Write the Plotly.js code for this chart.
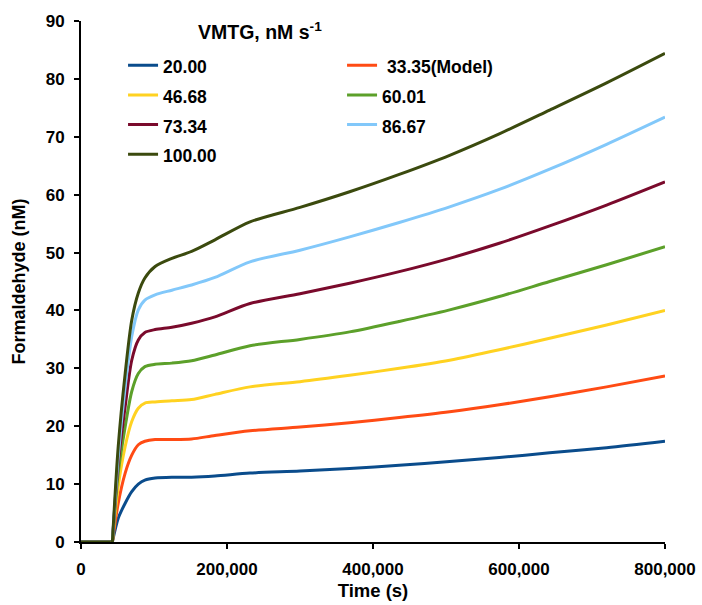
<!DOCTYPE html>
<html>
<head>
<meta charset="utf-8">
<script src="https://cdn.plot.ly/plotly-3.0.1.min.js"></script>
<style>
html,body{margin:0;padding:0;background:#fff;}
#chart{width:702px;height:605px;}
</style>
</head>
<body>
<div id="chart"></div>
<script>
// Time points (s)
const timeS = [0, 43000, 51000, 60500, 69500, 78500, 87500, 101500, 124500, 151500, 183500, 231500, 300000, 368000, 436000, 505000, 573000, 642000, 720000, 800000];

// Series names (VMTG, nM s-1)
const seriesNames = ['20.00', '\u00a033.35(Model)', '46.68', '60.01', '73.34', '86.67', '100.00'];
const seriesColors = ['#0A4C8C', '#FF4B14', '#FFD221', '#5CA02A', '#7A0A2C', '#82C8FA', '#3B4A0E'];

// Formaldehyde (nM)
const v20  = [0, 0, 4.1, 6.7, 8.7, 10.0, 10.7, 11.06, 11.2, 11.2, 11.4, 11.9, 12.25, 12.7, 13.25, 13.9, 14.6, 15.4, 16.3, 17.4];
const v33  = [0, 0, 6.7, 11.9, 15.0, 16.8, 17.4, 17.7, 17.7, 17.8, 18.4, 19.2, 19.85, 20.6, 21.5, 22.5, 23.7, 25.1, 26.8, 28.7];
const v46  = [0, 0, 9.6, 16.5, 20.8, 23.1, 24.0, 24.2, 24.4, 24.6, 25.5, 26.8, 27.7, 28.8, 30.0, 31.4, 33.2, 35.2, 37.5, 40.0];
const v60  = [0, 0, 11.9, 19.9, 26.0, 29.1, 30.3, 30.7, 30.9, 31.3, 32.3, 33.9, 35.0, 36.3, 38.1, 40.1, 42.4, 45.0, 47.9, 51.0];
const v73  = [0, 0, 13.6, 23.4, 31.4, 34.9, 36.2, 36.7, 37.1, 37.8, 38.9, 41.2, 42.9, 44.7, 46.7, 49.0, 51.6, 54.6, 58.2, 62.2];
const v86  = [0, 0, 14.7, 26.8, 35.5, 40.1, 41.8, 42.7, 43.5, 44.4, 45.7, 48.4, 50.4, 52.7, 55.2, 57.9, 60.9, 64.4, 68.7, 73.4];
const v100 = [0, 0, 16.5, 29.1, 38.3, 43.0, 45.6, 47.6, 49.0, 50.2, 52.2, 55.3, 57.8, 60.5, 63.5, 66.8, 70.5, 74.6, 79.3, 84.4];

const allSeries = [v20, v33, v46, v60, v73, v86, v100];

// Axis ticks
const xTicks = [0, 200000, 400000, 600000, 800000];
const yTicks = [0, 10, 20, 30, 40, 50, 60, 70, 80, 90];

const FONT = 'Liberation Sans, Arial, Helvetica, sans-serif';

const traces = [];
// flat lag phase (first two samples), drawn straight
allSeries.forEach((ys, i) => {
  traces.push({
    type: 'scatter', mode: 'lines',
    x: timeS.slice(0, 2), y: ys.slice(0, 2),
    legendgroup: 'g' + i, showlegend: false,
    line: {color: seriesColors[i], width: 3},
    hoverinfo: 'skip'
  });
});
// main curves
allSeries.forEach((ys, i) => {
  traces.push({
    type: 'scatter', mode: 'lines',
    x: timeS.slice(1), y: ys.slice(1),
    legendgroup: 'g' + i,
    name: '<span style="font-size:17.5px">' + seriesNames[i] + '</span>',
    line: {color: seriesColors[i], width: 3, shape: 'spline', smoothing: 0.8},
    hoverinfo: 'x+y'
  });
});

const layout = {
  width: 702,
  height: 605,
  margin: {l: 81, r: 37, t: 21, b: 63},
  paper_bgcolor: '#fff',
  plot_bgcolor: '#fff',
  font: {family: FONT, color: '#000', size: 17, weight: 700},
  showlegend: true,
  legend: {
    orientation: 'h',
    x: 0.072, xanchor: 'left',
    y: 0.953, yanchor: 'top',
    entrywidth: 174,
    font: {family: FONT, size: 20.5, color: '#000', weight: 700},
    bgcolor: 'rgba(0,0,0,0)',
    traceorder: 'normal',
    tracegroupgap: 0
  },
  xaxis: {
    range: [0, 800000],
    tickvals: xTicks,
    tickformat: ',d',
    showline: true, linecolor: '#000', linewidth: 2,
    ticks: 'outside', ticklen: 5, tickwidth: 2, tickcolor: '#000',
    ticklabelstandoff: 6,
    showgrid: false, zeroline: false,
    tickfont: {family: FONT, size: 17, color: '#000', weight: 700},
    title: {text: 'Time (s)', font: {family: FONT, size: 18.5, color: '#000', weight: 700}, standoff: 6},
    automargin: false
  },
  yaxis: {
    range: [0, 90],
    tickvals: yTicks,
    showline: true, linecolor: '#000', linewidth: 2,
    ticks: 'outside', ticklen: 5, tickwidth: 2, tickcolor: '#000',
    ticklabelstandoff: 6,
    showgrid: false, zeroline: false,
    tickfont: {family: FONT, size: 17, color: '#000', weight: 700},
    title: {text: 'Formaldehyde (nM)', font: {family: FONT, size: 18, color: '#000', weight: 700}, standoff: 15},
    automargin: false
  },
  annotations: [{
    xref: 'paper', yref: 'paper',
    x: 0.197, xanchor: 'left',
    y: 0.981, yanchor: 'middle',
    showarrow: false,
    text: 'VMTG, nM s<sup>-1</sup>',
    font: {family: FONT, size: 19.5, color: '#000', weight: 700}
  }]
};

Plotly.newPlot('chart', traces, layout, {displayModeBar: false, staticPlot: true});
</script>
</body>
</html>
